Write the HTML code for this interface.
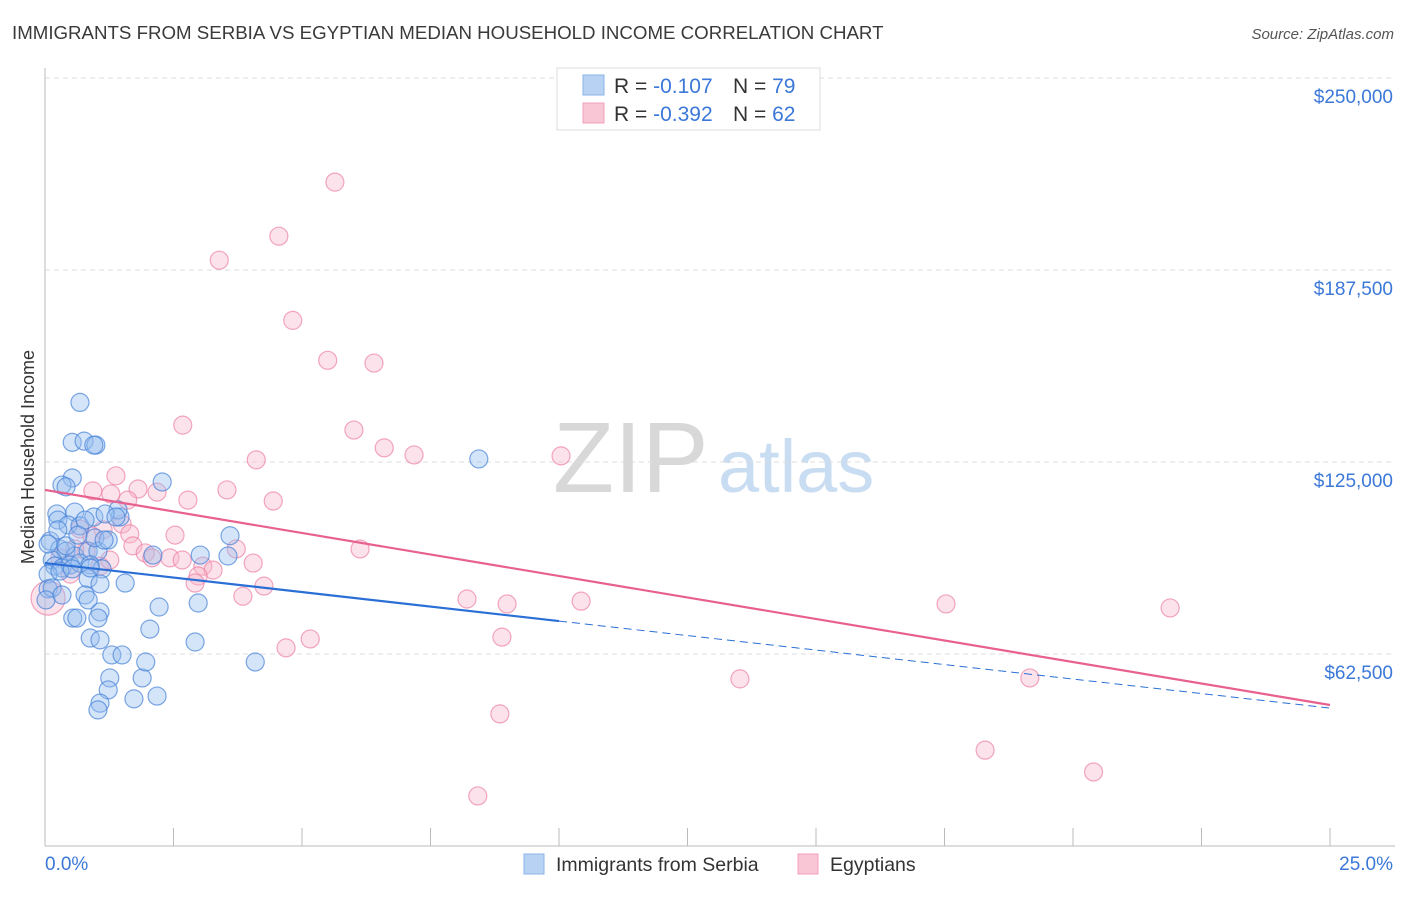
<!DOCTYPE html>
<html><head><meta charset="utf-8"><style>
body{margin:0;background:#fff;font-family:"Liberation Sans",sans-serif}
svg text{font-family:"Liberation Sans",sans-serif}
</style></head><body>
<svg id="c" width="1406" height="892" viewBox="0 0 1406 892">
<text x="12" y="39" font-size="18.7" fill="#3a3a3a">IMMIGRANTS FROM SERBIA VS EGYPTIAN MEDIAN HOUSEHOLD INCOME CORRELATION CHART</text>
<text x="1394" y="39" font-size="15" fill="#555" font-style="italic" text-anchor="end">Source: ZipAtlas.com</text>
<text x="553" y="492" font-size="100" fill="#d8d8d8" font-family="Liberation Serif">ZIP</text>
<text x="718" y="492" font-size="74" fill="#c8dcf2">atlas</text>
<text transform="translate(34,457) rotate(-90)" font-size="18" fill="#333" text-anchor="middle">Median Household Income</text>
<g id="grid"></g><g id="pts"></g><g id="lines"></g>
<g>
<rect x="557" y="68" width="263" height="62" fill="#fff" stroke="#ddd"/>
<rect x="583" y="75" width="21" height="20" fill="#b8d2f4" stroke="#8ab4e8"/>
<rect x="583" y="103" width="21" height="20" fill="#f9c6d6" stroke="#f0a0b8"/>
<text x="614" y="93" font-size="21" fill="#333">R = <tspan fill="#3b78d8"> -0.107</tspan><tspan x="733">N = </tspan><tspan fill="#3b78d8">79</tspan></text>
<text x="614" y="121" font-size="21" fill="#333">R = <tspan fill="#3b78d8">-0.392</tspan><tspan x="733">N = </tspan><tspan fill="#3b78d8">62</tspan></text>
</g>
<g>
<rect x="524" y="854" width="20" height="20" fill="#b8d2f4" stroke="#8ab4e8"/>
<text x="556" y="871" font-size="19.5" fill="#333">Immigrants from Serbia</text>
<rect x="798" y="854" width="20" height="20" fill="#f9c6d6" stroke="#f0a0b8"/>
<text x="830" y="871" font-size="19.5" fill="#333">Egyptians</text>
</g>
</svg>
<script>
const yTicks=[62500,125000,187500,250000];
const yTickLabels=["$62,500","$125,000","$187,500","$250,000"];
const xTicks=[0,2.5,5,7.5,10,12.5,15,17.5,20,22.5,25];
const serbiaX=[0.68,0.53,0.76,0.99,0.95,0.53,0.33,0.41,2.28,0.23,0.58,0.25,0.45,0.68,0.95,1.46,1.42,1.17,0.1,0.29,0.41,0.58,0.84,1.03,0.14,0.19,0.33,0.49,0.68,0.88,0.97,1.23,0.06,0.29,0.53,1.11,0.84,1.07,1.56,0.06,0.78,0.84,0.54,0.62,1.07,1.03,0.88,1.07,1.3,1.5,1.26,1.23,1.07,1.03,1.73,2.18,1.89,1.96,2.04,2.22,2.98,2.92,3.6,3.56,3.02,2.1,4.09,8.44,0.14,0.02,0.25,0.41,0.78,0.64,0.06,1.15,0.33,1.38,0.88];
const serbiaY=[144.4,131.4,131.8,130.5,130.5,119.8,117.5,116.9,118.5,108.1,108.7,106.1,104.5,104.2,107.1,107.1,109.4,108.1,99.3,96.7,96.0,94.4,96.0,96.0,93.1,91.1,90.5,91.5,92.1,91.5,100.3,99.6,88.5,89.5,90.2,90.2,87.0,85.3,85.6,83.7,81.7,80.1,74.2,74.2,76.2,74.2,67.7,67.1,62.2,62.2,54.7,50.8,46.5,44.3,47.9,48.8,54.7,59.9,70.6,77.8,79.1,66.4,101.0,94.4,94.7,94.7,59.9,126.0,84.0,80.1,102.9,97.7,106.1,101.2,98.3,99.6,81.7,107.1,90.5];
const egyptX=[5.64,4.55,3.39,4.82,5.5,6.4,2.68,6.01,6.6,7.18,10.04,4.11,1.38,3.54,0.93,1.28,1.81,2.18,1.61,2.78,4.44,1.5,1.13,1.65,2.53,0.68,6.13,3.72,1.71,1.95,2.08,2.43,2.67,3.07,4.05,3.27,2.98,2.92,4.26,3.85,8.21,8.99,10.43,17.53,21.89,8.89,5.16,4.69,13.52,19.16,8.85,18.29,20.4,8.42,0.06,1.07,0.8,0.29,0.58,0.91,1.26,0.49];
const egyptY=[216.1,198.5,190.7,171.1,158.1,157.2,137.0,135.4,129.6,127.3,127.0,125.7,120.5,115.9,115.6,114.6,116.2,115.2,112.6,112.6,112.3,104.8,102.9,101.6,101.2,103.2,96.7,96.7,97.7,95.4,93.8,93.8,93.1,91.1,92.1,89.8,87.9,85.6,84.6,81.3,80.4,78.8,79.7,78.8,77.5,68.0,67.4,64.5,54.4,54.7,43.0,31.2,24.1,16.3,80.7,91.1,96.0,93.8,96.7,100.9,93.1,88.5];
const trendSerbia=[92.1,44.9]; const trendEgypt=[115.9,45.9]; const serbiaSolidEnd=[10];
const X=p=>45+p/25*1285, Y=k=>846-k/250*768;
const ns="http://www.w3.org/2000/svg";
function mk(t,a,parent){const e=document.createElementNS(ns,t);for(const k in a)e.setAttribute(k,a[k]);parent.appendChild(e);return e;}
const g=document.getElementById('grid'),pts=document.getElementById('pts'),ln=document.getElementById('lines');
yTicks.forEach((v,i)=>{const l=mk('line',{x1:45,x2:1395,y1:Y(v/1000),y2:Y(v/1000),stroke:'#ddd','stroke-dasharray':'5,4'},g);


const t=mk('text',{x:1393,y:Y(v/1000)+25,'font-size':19,fill:'#3b78d8','text-anchor':'end'},g);t.textContent=yTickLabels[i];

});
const ax=mk('line',{x1:45,x2:45,y1:68,y2:846,stroke:'#bbb'},g);


const bx=mk('line',{x1:45,x2:1395,y1:846,y2:846,stroke:'#bbb'},g);


xTicks.forEach(p=>{const t=mk('line',{x1:X(p),x2:X(p),y1:828,y2:846,stroke:'#bbb'},g);

});
const xl=mk('text',{x:45,y:870,'font-size':19,fill:'#3b78d8'},g);xl.textContent='0.0%';


const xr=mk('text',{x:1393,y:870,'font-size':19,fill:'#3b78d8','text-anchor':'end'},g);xr.textContent='25.0%';


egyptX.forEach((p,i)=>{const c=mk('circle',{cx:X(p),cy:Y(egyptY[i]),r:i==54?17:9,fill:'rgba(248,182,202,0.4)',stroke:'rgba(236,130,165,0.7)','stroke-width':1.2},pts);

});
serbiaX.forEach((p,i)=>{const c=mk('circle',{cx:X(p),cy:Y(serbiaY[i]),r:9,fill:'rgba(150,190,240,0.4)',stroke:'rgba(70,130,215,0.7)','stroke-width':1.2},pts);

});
const at=p=>trendSerbia[0]+(trendSerbia[1]-trendSerbia[0])*p/25;
const s1=mk('line',{x1:X(0),y1:Y(trendSerbia[0]),x2:X(serbiaSolidEnd[0]),y2:Y(at(serbiaSolidEnd[0])),stroke:'#2a6fd6','stroke-width':2.2},ln);


const s2=mk('line',{x1:X(serbiaSolidEnd[0]),y1:Y(at(serbiaSolidEnd[0])),x2:X(25),y2:Y(trendSerbia[1]),stroke:'#2a6fd6','stroke-width':1,'stroke-dasharray':'8,5'},ln);


const e1=mk('line',{x1:X(0),y1:Y(trendEgypt[0]),x2:X(25),y2:Y(trendEgypt[1]),stroke:'#e8608e','stroke-width':2.2},ln);


</script>
</body></html>
